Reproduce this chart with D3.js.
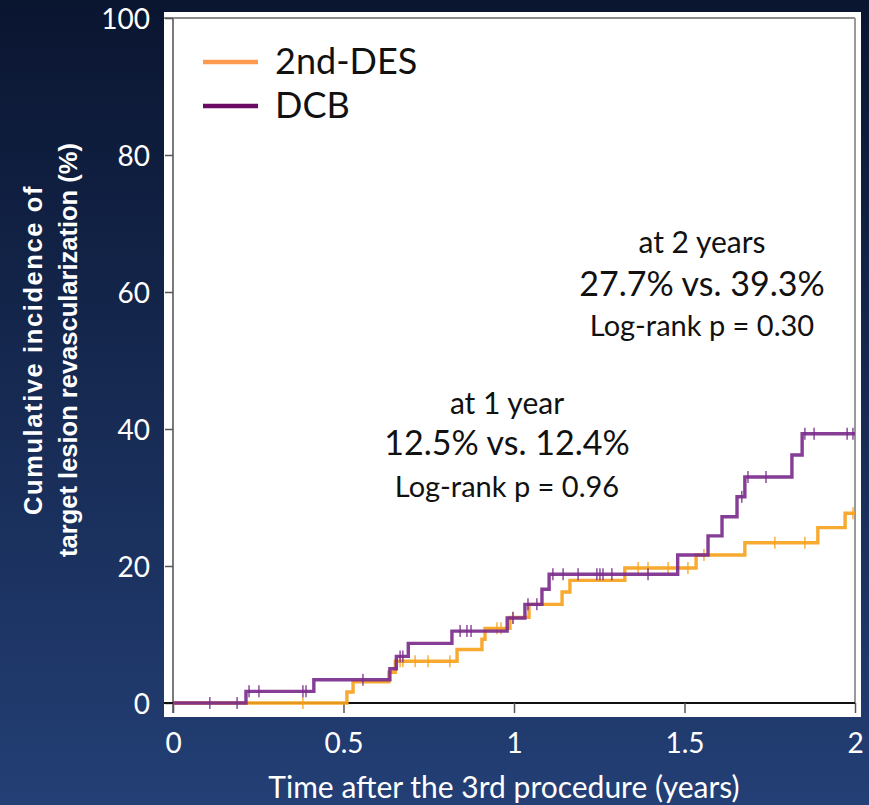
<!DOCTYPE html>
<html>
<head>
<meta charset="utf-8">
<script src="https://cdn.jsdelivr.net/npm/d3@7"></script>
<style>
  html, body { margin: 0; padding: 0; background: #0b1733; }
  svg { display: block; }
</style>
</head>
<body>
<svg id="chart" width="869" height="805"></svg>
<script>
// Kaplan–Meier cumulative incidence of target lesion revascularization
const seriesNames = ["2nd-DES", "DCB"];

// event times (years) and cumulative incidence (%) after each step
const desTimes  = [0, 0.51, 0.528, 0.633, 0.652, 0.833, 0.906, 0.915, 0.988, 1.044, 1.141, 1.164, 1.325, 1.534, 1.677, 1.891, 1.971];
const desValues = [0, 1.6, 3.1, 4.5, 6.1, 7.8, 9.3, 10.9, 12.5, 14.4, 16.2, 17.9, 19.7, 21.6, 23.4, 25.6, 27.7];
const dcbTimes  = [0, 0.214, 0.413, 0.636, 0.655, 0.69, 0.818, 0.98, 1.032, 1.082, 1.103, 1.48, 1.569, 1.61, 1.654, 1.677, 1.815, 1.845];
const dcbValues = [0, 1.7, 3.4, 5.0, 6.8, 8.7, 10.5, 12.4, 14.4, 16.6, 18.8, 21.6, 24.4, 27.2, 30.1, 33.0, 36.2, 39.3];
const followUpEnd = 2.0;

// censored observations (years)
const desCensor = [0.381, 0.666, 0.674, 0.71, 0.748, 0.812, 0.95, 0.962, 0.997, 1.364, 1.393, 1.452, 1.51, 1.557, 1.765, 1.853, 1.994];
const dcbCensor = [0.108, 0.188, 0.223, 0.252, 0.381, 0.39, 0.557, 0.666, 0.674, 0.842, 0.862, 0.874, 0.997, 1.041, 1.067,
                   1.114, 1.144, 1.188, 1.243, 1.252, 1.261, 1.287, 1.393, 1.668, 1.686, 1.739, 1.853, 1.88, 1.977, 1.994];

const xTicks = [0, 0.5, 1, 1.5, 2];
const yTicks = [0, 20, 40, 60, 80, 100];

const xTitle = "Time after the 3rd procedure (years)";
const yTitle = ["Cumulative incidence of", "target lesion revascularization (%)"];
const notes1y = ["at 1 year", "12.5% vs. 12.4%", "Log-rank p = 0.96"];
const notes2y = ["at 2 years", "27.7% vs. 39.3%", "Log-rank p = 0.30"];

const curveColors  = { des: "#f7a21e", dcb: "#7b2d8c" };
const legendColors = { des: "#fd9a50", dcb: "#690b65" };

const svg = d3.select("#chart");
const W = 869, H = 805;

// page background
const defs = svg.append("defs");
const bg = defs.append("linearGradient").attr("id", "bgGrad").attr("x1", 0).attr("y1", 0).attr("x2", 0).attr("y2", 1);
bg.append("stop").attr("offset", "0%").attr("stop-color", "#0a1530");
bg.append("stop").attr("offset", "100%").attr("stop-color", "#233f75");
const soft = defs.append("filter").attr("id", "soft").attr("x", "-5%").attr("y", "-5%").attr("width", "110%").attr("height", "110%");
soft.append("feGaussianBlur").attr("stdDeviation", 0.6);

svg.append("rect").attr("width", W).attr("height", H).attr("fill", "url(#bgGrad)");

// white plot panel
svg.append("rect").attr("x", 164).attr("y", 12).attr("width", 697).attr("height", 705).attr("fill", "#ffffff");

const x = d3.scaleLinear().domain([0, 2]).range([173, 855]);
const y = d3.scaleLinear().domain([0, 100]).range([703, 18]);

// frame: top and right edges
svg.append("line").attr("x1", 164).attr("x2", x(2)).attr("y1", y(100)).attr("y2", y(100))
  .attr("stroke", "#8c8c8c").attr("stroke-width", 2);
svg.append("line").attr("x1", x(2)).attr("x2", x(2)).attr("y1", y(100)).attr("y2", y(0))
  .attr("stroke", "#9a9a9a").attr("stroke-width", 2);

// y axis
const yAxis = svg.append("g").attr("transform", `translate(${x(0)},0)`)
  .call(d3.axisLeft(y).tickValues(yTicks).tickSize(8).tickPadding(15).tickFormat(d3.format("d")));
yAxis.select(".domain").attr("stroke", "#7a7a7a").attr("stroke-width", 2)
  .attr("d", `M0,${y(100)}V${y(0) + 10}`);
yAxis.selectAll(".tick line").attr("stroke", "#555").attr("stroke-width", 1.5);
yAxis.selectAll(".tick text").attr("fill", "#ffffff").attr("font-family", "Lato, 'Open Sans', sans-serif")
  .attr("font-size", 28).attr("dy", "0.36em");

// x axis
const xAxis = svg.append("g").attr("transform", `translate(0,${y(0)})`)
  .call(d3.axisBottom(x).tickValues(xTicks).tickSize(10).tickPadding(20).tickFormat(d => d3.format("")(d)));
xAxis.select(".domain").attr("stroke", "#111").attr("stroke-width", 2).attr("d", `M164,0H${x(2)}`);
xAxis.selectAll(".tick line").attr("stroke", "#555").attr("stroke-width", 1.5);
xAxis.selectAll(".tick text").attr("fill", "#ffffff").attr("font-family", "Lato, 'Open Sans', sans-serif")
  .attr("font-size", 28);

// step curves
function stepPoints(times, values) {
  const pts = times.map((t, i) => [t, values[i]]);
  pts.push([followUpEnd, values[values.length - 1]]);
  return pts;
}
function valueAt(times, values, t) {
  const i = d3.bisectRight(times, t) - 1;
  return values[Math.max(0, i)];
}
const line = d3.line().x(d => x(d[0])).y(d => y(d[1])).curve(d3.curveStepAfter);

const curves = svg.append("g").attr("filter", "url(#soft)");
const series = [
  { key: "des", times: desTimes, values: desValues, censor: desCensor },
  { key: "dcb", times: dcbTimes, values: dcbValues, censor: dcbCensor }
];
series.forEach(s => {
  curves.append("path").datum(stepPoints(s.times, s.values))
    .attr("d", line).attr("fill", "none")
    .attr("stroke", curveColors[s.key]).attr("stroke-width", 3.4).attr("stroke-opacity", 0.92);
  curves.selectAll(null).data(s.censor).enter().append("line")
    .attr("x1", d => x(d)).attr("x2", d => x(d))
    .attr("y1", d => y(valueAt(s.times, s.values, d)) - 6)
    .attr("y2", d => y(valueAt(s.times, s.values, d)) + 6)
    .attr("stroke", curveColors[s.key]).attr("stroke-width", 1.6).attr("stroke-opacity", 0.8);
});

// legend
const legend = svg.append("g");
[["des", 62], ["dcb", 106]].forEach(([k, ly], i) => {
  legend.append("line").attr("x1", 203).attr("x2", 258).attr("y1", ly).attr("y2", ly)
    .attr("stroke", legendColors[k]).attr("stroke-width", 4.5);
  legend.append("text").attr("x", 275).attr("y", ly + 12)
    .attr("font-family", "Lato, 'Open Sans', sans-serif").attr("font-size", 36).attr("fill", "#111")
    .text(seriesNames[i]);
});

// annotations
function notes(lines, cx, baselines, sizes) {
  lines.forEach((t, i) => {
    svg.append("text").attr("x", cx).attr("y", baselines[i]).attr("text-anchor", "middle")
      .attr("font-family", "Lato, 'Open Sans', sans-serif").attr("font-size", sizes[i]).attr("fill", "#111")
      .text(t);
  });
}
notes(notes1y, 507, [414, 455, 497], [30, 34, 29]);
notes(notes2y, 702, [253, 296, 336], [30, 34, 29]);

// axis titles
svg.append("text").attr("x", 504).attr("y", 798).attr("text-anchor", "middle")
  .attr("font-family", "Lato, 'Open Sans', sans-serif").attr("font-size", 30).attr("fill", "#ffffff")
  .text(xTitle);

const yt = svg.append("text").attr("transform", "translate(0,350) rotate(-90)")
  .attr("text-anchor", "middle").attr("font-family", "'Liberation Sans', Arial, sans-serif")
  .attr("font-weight", "bold").attr("font-size", 25.5).attr("fill", "#ffffff");
yt.append("tspan").attr("x", 0).attr("y", 42).attr("letter-spacing", 1.6).text(yTitle[0]);
yt.append("tspan").attr("x", 0).attr("y", 77).text(yTitle[1]);
</script>
</body>
</html>
